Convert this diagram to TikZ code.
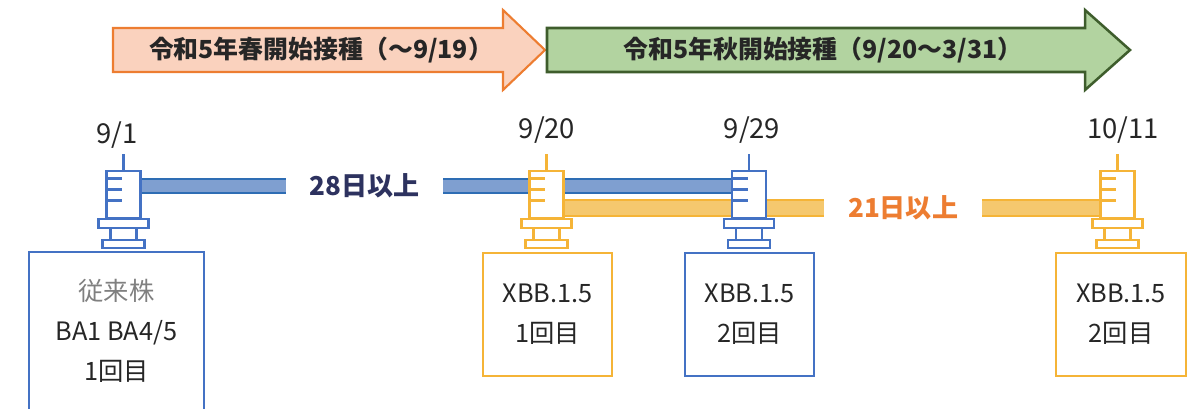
\documentclass[tikz,border=0pt]{standalone}
\usepackage{fontspec}
\setmainfont{Noto Sans CJK JP}
\usepackage{tikz}
\usetikzlibrary{calc,backgrounds}

\definecolor{vblue}{HTML}{4472C4}
\definecolor{vgold}{HTML}{F5B437}
\definecolor{barblue}{HTML}{7F9FD0}
\definecolor{edgeblue}{HTML}{2E6DB4}
\definecolor{bargold}{HTML}{F5C86E}
\definecolor{navy}{HTML}{2D325F}
\definecolor{vorange}{HTML}{ED7D31}
\definecolor{springfill}{HTML}{FAD2BE}
\definecolor{autumnfill}{HTML}{B2D3A0}
\definecolor{autumnedge}{HTML}{3E5D2C}
\definecolor{txt}{HTML}{262626}

\tikzset{
  barrel/.style={draw, fill=white, line width=1.5pt, minimum width=0.85cm, minimum height=1.175cm, inner sep=0pt},
  needle/.style={line width=2.1pt},
  part/.style={line width=1.5pt, fill=white},
  datelabel/.style={anchor=base, text=txt, font=\fontsize{19.5}{22}\selectfont},
  vbox/.style={line width=1.6pt, align=center, text=txt, inner sep=0pt, font=\fontsize{18}{28.3}\selectfont},
  periodtext/.style={text=txt, font=\bfseries\fontsize{17.7}{20}\selectfont},
  gaplabel/.style={fill=white, inner xsep=17pt, inner ysep=4pt, font=\bfseries\fontsize{18.5}{20}\selectfont},
  bluebar/.style={draw=edgeblue, line width=1.4pt, double=barblue, double distance=8.5pt},
  goldbar/.style={draw=vgold, line width=1.4pt, double=bargold, double distance=10pt}
}

% syringe: name, x, colour
\newcommand{\syringe}[3]{%
  \node[barrel, draw=#3] (#1) at (#2,194.5) {};
  \draw[#3, needle] (#1.north) -- ++(0,-16);
  \foreach \gy in {9,20,31}
    \draw[#3, needle] (#1.north west) ++(0,\gy) -- ++(17,0);
  \draw[#3, part] ($(#1.south)+(-25,0)$) rectangle ++(50,9);
  \draw[#3, part] ($(#1.south)+(-13,9)$) rectangle ++(26,12);
  \draw[#3, part] ($(#1.south)+(-21,21)$) rectangle ++(42,8);
}

\begin{document}
\begin{tikzpicture}[x=0.025cm, y=-0.025cm]
  \useasboundingbox (0,0) rectangle (1202,408);
  \clip (0,0) rectangle (1202,408);

  % periods
  \draw[fill=springfill, draw=vorange, line width=1.5pt] (113,28) -- (503,28) -- (503,10) -- (545,50) -- (503,90) -- (503,72) -- (113,72) -- cycle;
  \node[periodtext] (spring) at (321,50) {令和5年春開始接種（～9/19）};
  \draw[fill=autumnfill, draw=autumnedge, line width=1.8pt] (547,28) -- (1085,28) -- (1085,10) -- (1130,50) -- (1085,90) -- (1085,72) -- (547,72) -- cycle;
  \node[periodtext] (autumn) at (823,50) {令和5年秋開始接種（9/20～3/31）};

  % syringes
  \syringe{s1}{123.5}{vblue}
  \syringe{s2}{546.5}{vgold}
  \syringe{s3}{749}{vblue}
  \syringe{s4}{1117.5}{vgold}

  % dates
  \node[datelabel] (d1) at (117,143) {9/1};
  \node[datelabel] (d2) at (547,138) {9/20};
  \node[datelabel] (d3) at (752,138) {9/29};
  \node[datelabel] (d4) at (1123,138) {10/11};

  % vaccines
  \node[vbox, draw=vblue, minimum width=4.375cm, minimum height=3.95cm] (v1) at (116.5,331) {\textcolor{gray}{従来株}\\BA1 BA4/5\\1回目};
  \node[vbox, draw=vgold, minimum width=3.225cm, minimum height=3.075cm] (v2) at (547.5,314.5) {XBB.1.5\\1回目};
  \node[vbox, draw=vblue, minimum width=3.225cm, minimum height=3.075cm] (v3) at (749.5,314.5) {XBB.1.5\\2回目};
  \node[vbox, draw=vgold, minimum width=3.25cm, minimum height=3.075cm] (v4) at (1121,314.5) {XBB.1.5\\2回目};

  % intervals
  \begin{pgfonlayer}{background}
    \draw[bluebar] ($(s1.east)+(0,-8.5)$) -- node[pos=0.378, gaplabel, text=navy] {28日以上} ($(s3.west)+(0,-8.5)$);
    \draw[goldbar] ($(s2.east)+(0,13.5)$) -- node[pos=0.633, gaplabel, text=vorange] {21日以上} ($(s4.west)+(0,13.5)$);
  \end{pgfonlayer}
\end{tikzpicture}
\end{document}
